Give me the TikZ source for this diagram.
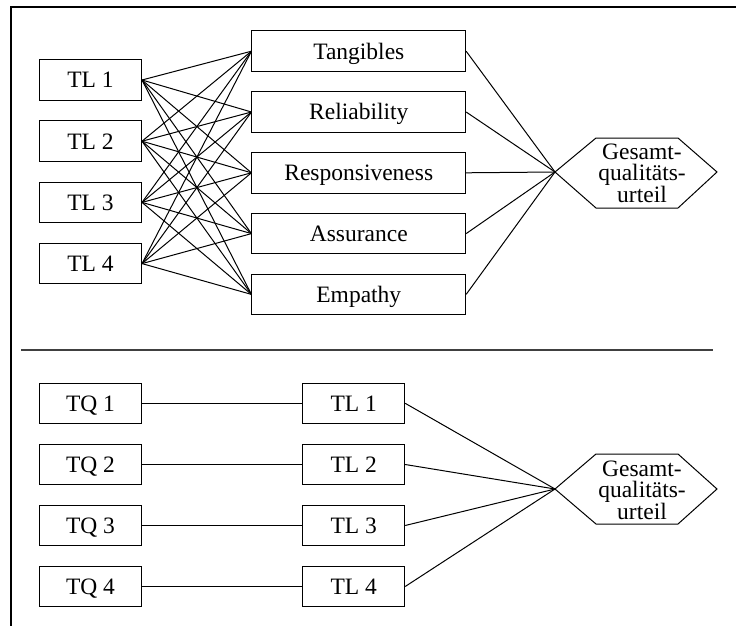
\documentclass[tikz,border=0pt]{standalone}
\usepackage{fontspec}
\setmainfont{Liberation Serif}
\begin{document}
\begin{tikzpicture}[x=1pt,y=-1pt,
  every node/.style={font=\fontsize{23.5}{21.7}\selectfont},
  itembox/.style={draw,line width=1pt,inner sep=0pt,minimum height=40.5pt,
    text height=15.8pt,text depth=0pt},
  smallbox/.style={itembox,minimum width=102pt},
  widebox/.style={itembox,minimum width=213.7pt},
  link/.style={line width=1pt},
  hexlabel/.style={align=center,inner sep=0pt,anchor=north},
  frameline/.style={line width=2pt},
  divider/.style={line width=1.3pt,draw=black!75}]
\useasboundingbox (0,0) rectangle (736,626);

% outer frame: top and left edges only
\draw[frameline] (736,7) -- (11,7) -- (11,626);
% divider between the two models
\draw[divider] (21,350) -- (713,350);

% ---------- upper model ----------
\foreach \i/\y in {1/80,2/141.2,3/202.4,4/263.6}
  \node[smallbox] (tl\i) at (90.5,\y) {TL \i};

\node[widebox] (m1) at (358.8,51.2)  {Tangibles};
\node[widebox] (m2) at (358.8,112)   {Reliability};
\node[widebox] (m3) at (358.8,172.8) {Responsiveness};
\node[widebox] (m4) at (358.8,233.6) {Assurance};
\node[widebox] (m5) at (358.8,294.4) {Empathy};

% overall judgement hexagon
\coordinate (h1) at (555,172);
\draw[line width=1pt] (h1) -- ++(41,-34) -- ++(82,0) -- ++(39,34)
  -- ++(-39,36) -- ++(-82,0) -- cycle;
\node[hexlabel] (g1) at (642,143.3) {Gesamt-\\qualitäts-\\urteil};

\foreach \i in {1,...,4}
  \foreach \j in {1,...,5}
    \draw[link] (tl\i.east) -- (m\j.west);
\foreach \j in {1,...,5}
  \draw[link] (m\j.east) -- (h1);

% ---------- lower model ----------
\foreach \i/\y in {1/403.3,2/464.5,3/525.5,4/586.5}{
  \node[smallbox] (tq\i) at (90.5,\y) {TQ \i};
  \node[smallbox] (tb\i) at (353.7,\y) {TL \i};
}

\coordinate (h2) at (555,489);
\draw[line width=1pt] (h2) -- ++(41,-35) -- ++(82,0) -- ++(39,35)
  -- ++(-39,35) -- ++(-82,0) -- cycle;
\node[hexlabel] (g2) at (642,460.3) {Gesamt-\\qualitäts-\\urteil};

\foreach \i in {1,...,4}{
  \draw[link] (tq\i.east) -- (tb\i.west);
  \draw[link] (tb\i.east) -- (h2);
}
\end{tikzpicture}
\end{document}
